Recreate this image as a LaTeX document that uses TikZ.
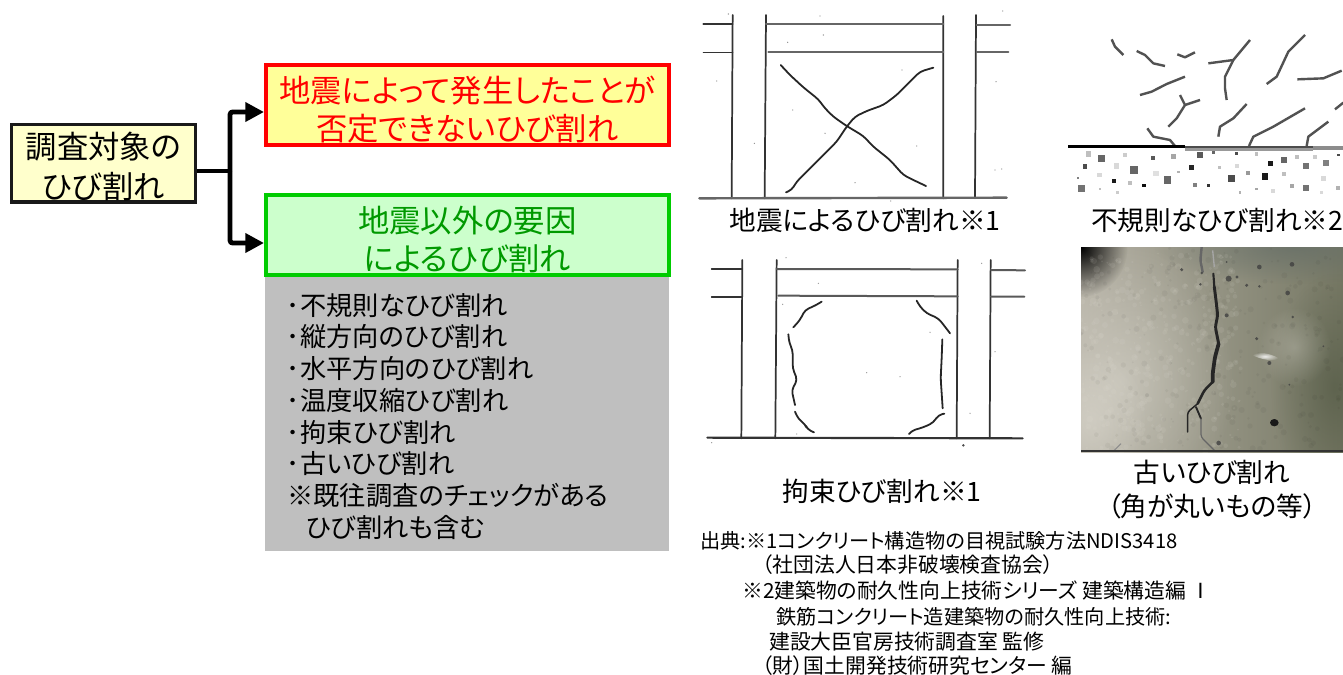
\documentclass[tikz,border=0pt]{standalone}
\usepackage{fontspec}
\setmainfont[RawFeature=+palt]{Noto Sans CJK JP}
\usetikzlibrary{arrows.meta,fadings}
\tikzfading[name=softblob,inner color=transparent!0,outer color=transparent!100]
\definecolor{srcfill}{HTML}{FFFFCC}
\definecolor{redfill}{HTML}{FFFF99}
\definecolor{greenfill}{HTML}{CCFFCC}
\definecolor{greenline}{HTML}{00CC00}
\definecolor{greentext}{HTML}{009900}
\definecolor{listgray}{HTML}{BFBFBF}
\definecolor{inkline}{HTML}{333333}
\definecolor{concL}{HTML}{B4B0A4}
\definecolor{concM}{HTML}{A39D8D}
\definecolor{concR}{HTML}{767864}
\definecolor{concShade}{HTML}{4E5540}
\definecolor{concTop}{HTML}{687068}
\definecolor{concPale}{HTML}{E4E1D8}
\newcommand{\listdot}{\hspace{9.8pt}\llap{･\hspace{.5pt}}}
\newcommand{\lowertext}{\rule{0pt}{27pt}}
\tikzset{
  px/.style={x=0.75pt,y=-0.75pt},
  zoomed/.style={x=0.25pt,y=-0.25pt},
  boxlabel/.style={draw,line width=3pt,align=center,inner sep=0pt,font=\fontsize{23.5pt}{28.5pt}\selectfont,minimum height=60pt},
  linkline/.style={line width=3.6pt,draw=black,rounded corners=2pt},
  linkhead/.style={-{Triangle[length=14pt,width=14pt]},line width=3.6pt,draw=black},
  caption/.style={font=\fontsize{20pt}{25.5pt}\selectfont,inner sep=0pt,align=center},
  refline/.style={font=\fontsize{15.6pt}{15.6pt}\selectfont,inner sep=0pt,anchor=base west},
  refnarrow/.style={refline,font=\fontsize{15.15pt}{15.6pt}\selectfont},
  framing/.style={line width=1.3pt,draw=inkline,line cap=round},
  crack/.style={line width=1.35pt,draw=black!85,line join=round,line cap=round,rounded corners=3pt},
  pixelcrack/.style={line width=1.8pt,draw=black!68,line join=round,line cap=butt},
  photocrack/.style={draw=black!85,line join=round,line cap=round,rounded corners=2pt},
  pit/.style={fill=black!75,draw=none,opacity=.8},
  blob/.style={path fading=softblob},
}
\begin{document}
\begin{tikzpicture}[px]
\useasboundingbox (0,0) rectangle (1343,675);
\fill[white] (0,0) rectangle (1343,675);

% left hand flow
\node[boxlabel,draw=black!90,fill=srcfill,line width=2.4pt,minimum width=138pt,minimum height=58pt,font=\fontsize{23.5pt}{30pt}\selectfont,anchor=north west] (src) at (10,123)
  {\rule{0pt}{24pt}調査対象の\\ひび割れ};
\node[boxlabel,draw=red,fill=redfill,text=red,minimum width=302pt,anchor=north west] (quake) at (264,63)
  {\lowertext 地震によって発生したことが\\否定できないひび割れ};
\node[fill=listgray,minimum width=303pt,minimum height=205pt,inner sep=0pt,anchor=north west] (listbg) at (265,277) {};
\node[boxlabel,draw=greenline,fill=greenfill,text=greentext,minimum width=302pt,anchor=north west] (other) at (264,193)
  {\rule{0pt}{26pt}地震以外の要因\\によるひび割れ};
\node[inner sep=0pt,anchor=north west,align=left,font=\fontsize{19.7pt}{23.8pt}\selectfont] (list) at (287,293)
  {\listdot 不規則なひび割れ\\\listdot 縦方向のひび割れ\\\listdot 水平方向のひび割れ\\\listdot 温度収縮ひび割れ\\\listdot 拘束ひび割れ\\\listdot 古いひび割れ\\※既往調査のチェックがある\\\hspace{14pt}ひび割れも含む};

\coordinate (trunk) at (230,171);
\coordinate (branchA) at (230,112);
\coordinate (branchB) at (230,243);
\draw[line width=3.6pt] (src.east |- trunk) -- (trunk);
\draw[linkline] (trunk) -- (branchA) -- ++(16,0);
\draw[linkline] (trunk) -- (branchB) -- ++(16,0);
\draw[linkhead] (branchA) -- (quake.west |- branchA);
\draw[linkhead] (branchB) -- (other.west |- branchB);

% frame drawing, earthquake crack
\begin{scope}[shift={(690,0)},zoomed]
\draw[framing] (40,72)--(128,72);
\draw[framing,line width=1pt] (40,157)--(128,157);
\draw[framing] (128,45)--(125,595) (228,45)--(224,595) (760,48)--(760,595) (858,45)--(855,595);
\draw[framing,draw=black!60,line width=1.6pt] (228,72)--(760,72) (235,155)--(760,155) (860,75)--(960,75) (860,155)--(955,155);
\draw[framing,draw=black!60,line width=1.8pt] (28,595)--(950,593);
\draw[crack] (272,195)--(300,225)--(340,262)--(385,298)--(405,325)--(430,350)--(470,378)--(520,408)--(550,440)--(600,480)--(640,525)--(670,540)--(708,558);
\draw[crack] (288,577)--(305,570)--(320,545)--(345,520)--(375,490)--(410,455)--(440,425)--(470,380)--(495,350)--(530,333)--(580,315)--(620,285)--(660,245)--(690,215)--(730,203);
\foreach \p in {(115,42),(390,48),(400,105),(293,127),(636,210),(193,430),(405,400),(80,243),(308,330),(680,438),(495,548),(602,603),(915,510),(935,507),(938,33),(918,245)}{\fill[black!45] \p circle (2);}
\end{scope}
\node[caption] (capA) at (865,220) {地震によるひび割れ※1};

% irregular cracks
\begin{scope}[shift={(1060,20)},zoomed]
\draw[pixelcrack] (155,58)--(165,80)--(190,105);
\draw[pixelcrack] (230,93)--(255,105)--(280,130)--(315,138);
\draw[pixelcrack] (352,103)--(375,112)--(405,97);
\draw[pixelcrack] (240,225)--(275,215)--(320,192)--(375,170);
\draw[pixelcrack] (360,225)--(375,255)--(350,295)--(325,320);
\draw[pixelcrack] (375,255)--(420,240);
\draw[pixelcrack] (445,130)--(520,120)--(570,60);
\draw[pixelcrack] (520,120)--(495,170)--(495,205)--(500,240);
\draw[pixelcrack] (620,192)--(650,170)--(685,95)--(735,45);
\draw[pixelcrack] (712,178)--(790,175)--(845,152);
\draw[pixelcrack] (825,268)--(850,248);
\draw[pixelcrack] (475,350)--(480,320)--(520,295)--(560,252);
\draw[pixelcrack] (262,325)--(280,350)--(330,360)--(345,378);
\draw[pixelcrack] (567,378)--(580,350)--(640,320)--(735,265);
\draw[pixelcrack] (740,378)--(745,350)--(805,305);
\fill[black] (25,375) rectangle (375,385);
\fill[black!70] (375,377) rectangle (760,387);
\fill[black!40] (375,385) rectangle (760,392);
\fill[black!45] (760,377) rectangle (850,390);
\foreach \x/\y/\s/\g in {85/402/8/25,125/415/11/60,195/405/7/20,280/415/6/65,340/410/7/35,420/405/9/65,460/397/4/60,530/400/5/70,590/402/5/25,
  75/440/7/70,170/438/8/15,222/450/11/60,395/443/7/85,478/442/5/25,530/437/6/15,632/430/7/90,672/420/10/60,712/410/6/25,765/410/6/20,738/437/9/55,797/430/9/50,835/405/4/70,
  118/465/7/15,288/460/8/12,355/456/4/30,565/460/6/40,515/476/10/70,615/470/10/90,672/462/6/25,790/475/7/15,
  55/475/3/50,162/483/7/90,210/490/6/25,252/497/5/95,322/480/11/60,405/495/5/50,445/497/4/80,65/505/11/55,120/507/4/25,172/517/4/20,540/517/4/30,590/507/4/35,640/513/6/15,695/497/6/35,738/503/9/55,785/517/4/15,835/503/6/30}{
  \fill[black!\g] ({\x-\s},{\y-\s}) rectangle ({\x+\s},{\y+\s});}
\end{scope}
\node[caption] (capB) at (1217,220) {不規則なひび割れ※2};

% restraint cracks
\begin{scope}[shift={(690,245)},zoomed]
\draw[framing] (65,72)--(157,72) (65,155)--(155,155);
\draw[framing] (157,45)--(154,580) (260,45)--(256,580) (803,45)--(800,580) (902,45)--(899,580);
\draw[framing,draw=black!65,line width=1.5pt] (260,72)--(803,73) (265,152)--(803,154) (903,75)--(1005,76) (903,155)--(1003,155);
\draw[framing,line width=1.6pt] (52,578)--(998,580);
\draw[crack] (395,170)--(375,182)--(345,195)--(330,225)--(310,247);
\draw[crack] (680,167)--(690,185)--(710,205)--(745,220)--(765,245)--(780,265);
\draw[crack] (295,268)--(298,295)--(308,315)--(308,370)--(322,405)--(305,435)--(315,480);
\draw[crack] (757,283)--(755,340)--(752,400)--(758,490);
\draw[crack] (315,500)--(325,522)--(345,537)--(352,553)--(372,562);
\draw[crack] (763,506)--(745,510)--(730,533)--(700,547)--(665,557)--(657,567);
\foreach \p in {(288,38),(875,55),(278,178),(385,115),(720,262),(530,383),(630,395),(915,320),(840,505),(320,567),(65,593)}{\fill[black!40] \p circle (2);}
\fill[black!70] (820,601) circle (4);
\end{scope}
\node[caption] (capC) at (882,491) {拘束ひび割れ※1};

% concrete photograph
\begin{scope}[shift={(1081,247)},zoomed]
\clip (0,0) rectangle (786,615);
\shade[left color=concL,middle color=concM,right color=concR] (0,0) rectangle (786,615);
\fill[concPale,blob,opacity=.5] (120,400) ellipse (340 and 420);
\fill[concPale,blob,opacity=.4] (30,520) ellipse (170 and 220);
\fill[concTop,blob,opacity=.8] (640,0) ellipse (420 and 110);
\fill[concShade,blob,opacity=.6] (760,420) ellipse (190 and 340);
\fill[concPale,blob,opacity=.3] (640,300) ellipse (110 and 120);
\fill[black,blob,opacity=1] (0,0) ellipse (140 and 150);
\pgfmathsetseed{4711}
\foreach \i in {1,...,420}{
  \pgfmathsetmacro\sx{random(0,480)}
  \pgfmathsetmacro\sy{random(20,615)}
  \pgfmathsetmacro\sr{random(3,10)}
  \fill[concPale,opacity=.1] (\sx,\sy) circle (\sr);}
\foreach \i in {1,...,260}{
  \pgfmathsetmacro\sx{random(0,786)}
  \pgfmathsetmacro\sy{random(0,615)}
  \pgfmathsetmacro\sr{random(3,9)}
  \fill[black,opacity=.04] (\sx,\sy) circle (\sr);}
\fill[white,blob,opacity=.85,rotate around={-12:(552,328)}] (552,328) ellipse (42 and 9);
\draw[photocrack,draw=black!60,line width=1.8pt] (362,0)--(358,40)--(365,75);
\draw[black!35,line width=1pt] (395,10)--(400,60);
\draw[photocrack,line width=1.6pt] (397,80)--(400,120);
\draw[photocrack,line width=2.2pt] (400,120)--(405,160)--(410,205)--(403,240)--(413,290);
\draw[photocrack,line width=2.8pt] (413,290)--(402,330)--(395,380)--(395,405);
\draw[photocrack,line width=1.9pt] (395,405)--(370,430)--(350,470);
\draw[photocrack,line width=1.1pt] (350,470)--(320,495)--(320,555);
\draw[photocrack,line width=1.4pt] (345,480)--(360,515);
\draw[photocrack,draw=black!60,line width=.9pt] (360,515)--(360,570)--(400,610);
\draw[black!45,line width=.8pt] (100,610)--(120,590);
\foreach \x/\y/\r in {302/68/5,362/78/4,437/45/3,535/60/7,633/52/7,443/95/9,468/90/5,497/115/5,535/118/4,620/138/7,437/205/6,635/210/4,527/275/5,565/348/6,625/413/3,413/588/7,727/298/3,358/112/4}{\fill[pit] (\x,\y) circle (\r);}
\fill[black!90] (580,527) ellipse (13 and 11);
\fill[black!80] (0,610) rectangle (786,615);
\end{scope}
\node[caption] (capD) at (1212,490) {古いひび割れ\\（角が丸いもの等）};

% reference lines
\node[refnarrow] (r1) at (700,548) {出典:※1コンクリート構造物の目視試験方法NDIS3418};
\node[refline] (r2) at (762,572) {（社団法人日本非破壊検査協会）};
\node[refline] (r3) at (742,598) {※2建築物の耐久性向上技術シリーズ 建築構造編 Ⅰ};
\node[refnarrow] (r4) at (776,624) {鉄筋コンクリート造建築物の耐久性向上技術:};
\node[refline] (r5) at (769,649) {建設大臣官房技術調査室 監修};
\node[refline] (r6) at (762,673) {（財）国土開発技術研究センター 編};
\end{tikzpicture}
\end{document}
